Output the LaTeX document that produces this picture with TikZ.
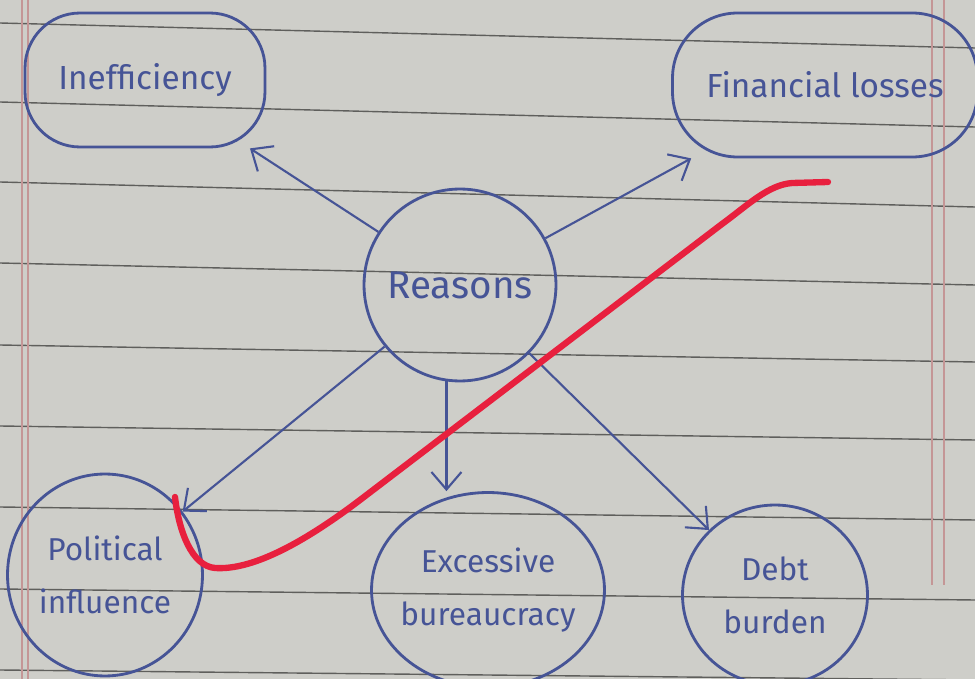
\documentclass[tikz,border=0pt]{standalone}
\usepackage{fontspec}
\setmainfont{Fira Sans}
\usetikzlibrary{arrows.meta,shapes.geometric}
\definecolor{paper}{RGB}{206,206,201}
\definecolor{ink}{RGB}{70,84,150}
\definecolor{ruling}{RGB}{95,95,92}
\definecolor{margin}{RGB}{196,150,150}
\definecolor{marker}{RGB}{232,32,62}
\tikzset{
  bubble/.style={draw=ink, line width=1.6pt, ellipse, inner sep=0pt, text=ink, align=center,
    font=\fontsize{18}{30}\selectfont},
  box/.style={draw=ink, line width=1.6pt, rectangle, rounded corners=1.1cm, inner sep=0pt,
    text=ink, align=center, font=\fontsize{19}{24}\selectfont},
  inside/.style={text=ink, align=center, font=\fontsize{18}{30}\selectfont},
  link/.style={draw=ink, line width=1.2pt, -{Straight Barb[length=3.5mm,width=6mm]}},
}
\begin{document}
\begin{tikzpicture}[x=0.02cm, y=-0.02cm]
  % paper
  \fill[paper] (0,0) rectangle (975,679);
  \useasboundingbox (0,0) rectangle (975,679);
  \foreach \yl/\yr in {23/48, 102/127, 182/207, 263/285, 345/362, 426/440, 507/520, 589/600, 670/680}
    \draw[ruling, line width=0.8pt] (0,\yl) -- (975,\yr);
  \draw[margin, line width=0.6pt] (22,0) -- (22,679) (28,0) -- (28,679);
  \draw[margin, line width=0.6pt] (932,0) -- (932,585) (944,0) -- (944,585);

  % mind map
  \node[bubble, minimum width=3.84cm, minimum height=3.84cm,
    label={[inside, font=\fontsize{22}{26}\selectfont]center:Reasons}] (reasons) at (460,285) {};
  \node[box, minimum width=4.8cm, minimum height=2.68cm] (ineff) at (145,80) {Inefficiency};
  \node[box, minimum width=6.1cm, minimum height=2.88cm, rounded corners=1.3cm] (finance) at (825,85)
    {Financial losses};
  \node[bubble, minimum width=3.9cm, minimum height=4.04cm] (politics) at (105,575)
    {Political\\influence};
  \node[bubble, minimum width=4.66cm, minimum height=3.9cm,
    label={[inside]center:Excessive\\bureaucracy}] (bureau) at (488,590) {};
  \node[bubble, minimum width=3.7cm, minimum height=3.6cm] (debt) at (775,595) {Debt\\burden};

  \draw[link] (reasons) -- (ineff);
  \draw[link] (reasons) -- (finance);
  \draw[link] (reasons) -- (politics);
  \draw[link] (reasons.262) -- (reasons.262 |- bureau.north);
  \draw[link] (reasons) -- (debt);

  % red marker stroke
  \draw[marker, line width=3.6pt, line cap=round, line join=round]
    (828,182) -- (792,183) .. controls (768,185) and (748,205) .. (722,224)
    -- (360,500) .. controls (290,553) and (245,570) .. (215,568)
    .. controls (192,566) and (179,532) .. (175,497);
\end{tikzpicture}
\end{document}
